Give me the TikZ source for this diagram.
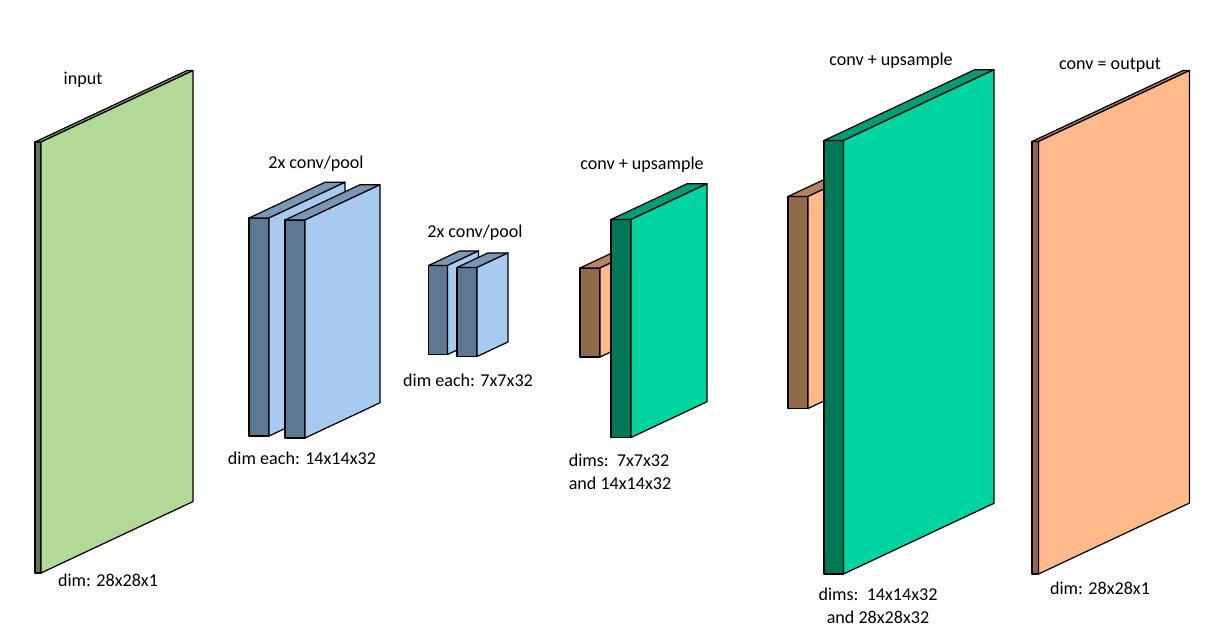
\documentclass[tikz,border=0pt]{standalone}
\usepackage{fontspec}
\setmainfont{Carlito}
\usetikzlibrary{positioning}

% Cores
\definecolor{verdeFrente}{RGB}{178,218,150}
\definecolor{verdeLado}{RGB}{94,120,80}
\definecolor{verdeTopo}{RGB}{134,168,112}
\definecolor{azulFrente}{RGB}{166,202,240}
\definecolor{azulLado}{RGB}{94,120,145}
\definecolor{azulTopo}{RGB}{122,151,181}
\definecolor{mentaFrente}{RGB}{0,212,160}
\definecolor{mentaLado}{RGB}{0,120,88}
\definecolor{mentaTopo}{RGB}{0,156,118}
\definecolor{pessegoFrente}{RGB}{255,185,138}
\definecolor{marromLado}{RGB}{147,105,75}
\definecolor{marromTopo}{RGB}{181,131,95}

\tikzset{
  rotulo/.style={font=\fontsize{10.3}{12.8}\selectfont, align=center, inner sep=0pt},
  face/.style={draw=black, line width=0.7pt, line join=round},
}

% #1,#2 canto frontal sup. esq.; #3 largura; #4 altura; #5 profundidade; #6 frente; #7 lado; #8 topo
\newcommand{\camada}[8]{%
  \filldraw[face, fill=#7] (#1-#5,#2) rectangle (#1,#2+#4);
  \filldraw[face, fill=#8] (#1-#5,#2) -- (#1,#2) -- (#1+#3,#2-0.47*#3) -- (#1+#3-#5,#2-0.47*#3) -- cycle;
  \filldraw[face, fill=#6] (#1,#2) -- (#1+#3,#2-0.47*#3) -- (#1+#3,#2-0.47*#3+#4) -- (#1,#2+#4) -- cycle;
}

\begin{document}
\begin{tikzpicture}[x=0.02cm, y=-0.02cm]
        \useasboundingbox (0,0) rectangle (1221,640);

        % Entrada
        \camada{41}{142}{152}{431}{6}{verdeFrente}{verdeLado}{verdeTopo}
        \node[rotulo] (rotEntrada) at (83,80) {input};
        \node[rotulo] (dimEntrada) at (108,580) {dim: 28x28x1};

        % Conv/pool 1
        \camada{269}{218}{76}{218}{20}{azulFrente}{azulLado}{azulTopo}
        \camada{305}{220}{75}{218}{20}{azulFrente}{azulLado}{azulTopo}
        \node[rotulo] (rotConvA) at (316,164) {2x conv/pool};
        \node[rotulo] (dimConvA) at (302,458) {dim each: 14x14x32};

        % Conv/pool 2
        \camada{447.5}{265.5}{31}{89}{19}{azulFrente}{azulLado}{azulTopo}
        \camada{477}{267.5}{31}{89}{20}{azulFrente}{azulLado}{azulTopo}
        \node[rotulo] (rotConvB) at (475,233) {2x conv/pool};
        \node[rotulo] (dimConvB) at (468,380) {dim each: 7x7x32};

        % Conv + upsample 1
        \camada{600}{268}{31}{89}{20}{pessegoFrente}{marromLado}{marromTopo}
        \camada{631}{219.5}{76}{218}{20}{mentaFrente}{mentaLado}{mentaTopo}
        \node[rotulo] (rotUpA) at (642,165) {conv + upsample};
        \node[rotulo, align=left] (dimUpA) at (620,472) {dims:\ \ 7x7x32\\and 14x14x32};

        % Conv + upsample 2
        \camada{808}{196.5}{76}{212}{20}{pessegoFrente}{marromLado}{marromTopo}
        \camada{843.5}{140.5}{150.5}{433.5}{19.5}{mentaFrente}{mentaLado}{mentaTopo}
        \node[rotulo] (rotUpB) at (891,61) {conv + upsample};
        \node[rotulo] (dimUpB) at (878,606) {dims:\ \ 14x14x32\\and 28x28x32};

        % Saida
        \camada{1038.5}{141.5}{151}{432.5}{6.5}{pessegoFrente}{marromLado}{marromTopo}
        \node[rotulo] (rotSaida) at (1110,65) {conv = output};
        \node[rotulo] (dimSaida) at (1100,588) {dim: 28x28x1};

    \end{tikzpicture}
\end{document}
